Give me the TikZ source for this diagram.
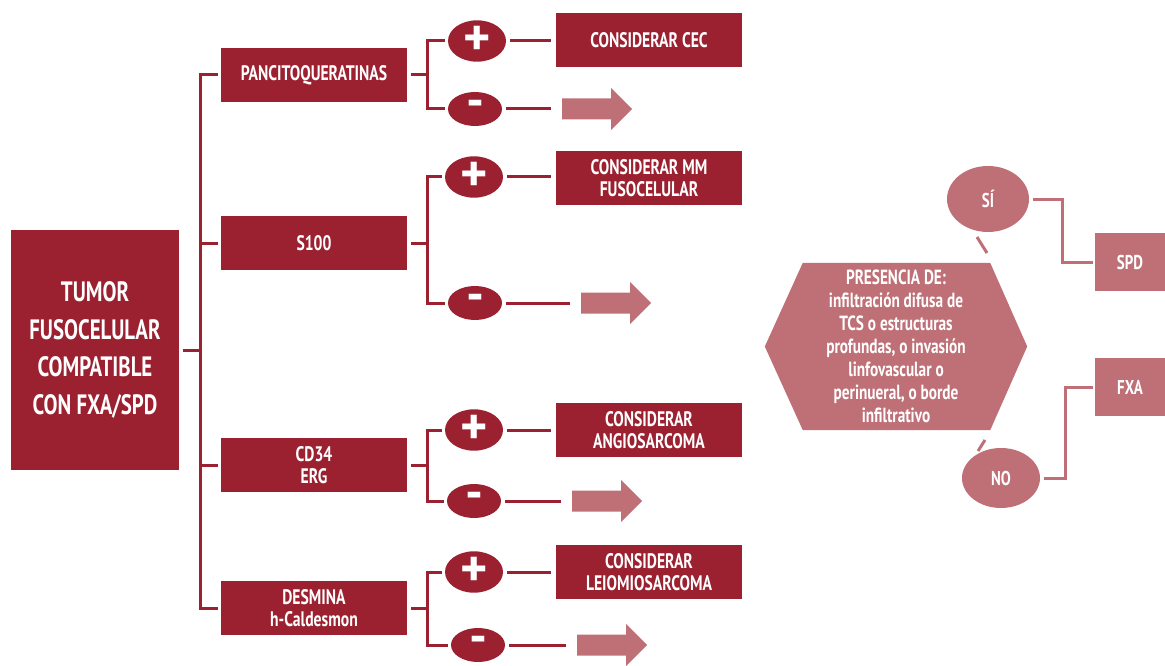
\documentclass[tikz,border=0pt]{standalone}
\usepackage{fontspec}
\setmainfont{PT Sans}[FakeStretch=0.745]
\newfontfamily\symfam{PT Sans}
\usetikzlibrary{shapes.geometric,backgrounds}
\definecolor{dred}{HTML}{9B2131}
\definecolor{lred}{HTML}{BF7077}
\begin{document}
\begin{tikzpicture}[x=1pt,y=-1pt,
  conn/.style={draw=dred,line width=3pt},
  lconn/.style={draw=lred,line width=3pt},
  box/.style={fill=dred,text=white,font=\bfseries\fontsize{21}{22}\selectfont,align=center,inner sep=0pt,minimum width=186pt,minimum height=54pt},
  mainbox/.style={fill=dred,text=white,font=\bfseries\fontsize{28}{37.7}\selectfont,align=center,inner sep=0pt,minimum width=168pt,minimum height=240pt},
  pbub/.style={ellipse,fill=dred,text=white,inner sep=0pt,minimum width=58pt,minimum height=36pt,font=\symfam\bfseries\fontsize{52}{52}\selectfont},
  mbub/.style={ellipse,fill=dred,text=white,inner sep=0pt,minimum width=54pt,minimum height=34pt,font=\symfam\bfseries\fontsize{50}{50}\selectfont},
  lbub/.style={ellipse,fill=lred,text=white,inner sep=0pt,font=\bfseries\fontsize{20}{22}\selectfont},
  lbox/.style={fill=lred,text=white,inner sep=0pt,minimum width=70pt,minimum height=58pt,font=\bfseries\fontsize{20}{22}\selectfont},
  hextext/.style={text=white,align=center,inner sep=0pt,minimum width=262pt,minimum height=167pt,font=\bfseries\fontsize{20.5}{23}\selectfont},
  rarrow/.pic={\fill[lred] (0,-10.5) -- (49,-10.5) -- (49,-21) -- (70,0) -- (49,21) -- (49,10.5) -- (0,10.5) -- cycle;}
]
\useasboundingbox (0,0) rectangle (1165,666);

% main and marker boxes
\node[mainbox] (main) at (95,350) {TUMOR\\FUSOCELULAR\\COMPATIBLE\\CON FXA/SPD};
\node[box] (b1) at (314,75) {PANCITOQUERATINAS};
\node[box] (b2) at (314,243) {S100};
\node[box] (b3) at (314,465) {CD34\\ERG};
\node[box] (b4) at (314,608) {DESMINA\\h-Caldesmon};

% result boxes
\node[box] (r1) at (649,40) {CONSIDERAR CEC};
\node[box] (r2) at (649,178) {CONSIDERAR MM\\FUSOCELULAR};
\node[box] (r3) at (649,430) {CONSIDERAR\\ANGIOSARCOMA};
\node[box] (r4) at (649,572) {CONSIDERAR\\LEIOMIOSARCOMA};

% plus / minus bubbles
\node[pbub] (p1) at (477,41) {+};
\node[mbub] (m1) at (475,109) {-};
\node[pbub] (p2) at (474,177) {+};
\node[mbub] (m2) at (475,303) {-};
\node[pbub] (p3) at (474,430) {+};
\node[mbub] (m3) at (474,501) {-};
\node[pbub] (p4) at (474,572) {+};
\node[mbub] (m4) at (478,645) {-};

% arrows
\coordinate (a1) at (562,109);
\coordinate (a2) at (581,303);
\coordinate (a3) at (572,501);
\coordinate (a4) at (577,645);
\pic at (a1) {rarrow};
\pic at (a2) {rarrow};
\pic at (a3) {rarrow};
\pic at (a4) {rarrow};

% trunk
\coordinate (t) at (200,350);
\coordinate (v) at (427,0);
\draw[conn] ([xshift=4pt]main.east) -- (t);
\draw[conn] ([xshift=-3pt]b1.west) -| (t) |- ([xshift=-3pt]b4.west);
\draw[conn] ([xshift=-3pt]b2.west) -- (b2.west -| t);
\draw[conn] ([xshift=-3pt]b3.west) -- (b3.west -| t);

% branches
\foreach \i in {1,2,3,4}{
  \draw[conn] ([xshift=4pt]b\i.east) -- (b\i.east -| v);
  \draw[conn] ([xshift=-3pt]p\i.west) -| (v |- m\i) -- ([xshift=-3pt]m\i.west);
  \draw[conn] ([xshift=4pt]p\i.east) -- ([xshift=-5pt]p\i.east -| r\i.west);
  \draw[conn] ([xshift=4pt]m\i.east) -- ([xshift=-11pt]a\i);
}

% right part
\node[hextext] (hex) at (896,346.5) {PRESENCIA DE:\\infiltración difusa de\\TCS o estructuras\\profundas, o invasión\\linfovascular o\\perinueral, o borde\\infiltrativo};
\begin{scope}[on background layer]
\fill[lred] (hex.west) -- ([xshift=38pt]hex.north west) -- ([xshift=-37pt]hex.north east) -- (hex.east) -- ([xshift=-37pt]hex.south east) -- ([xshift=38pt]hex.south west) -- cycle;
\end{scope}
\node[lbub,minimum width=82pt,minimum height=66pt] (si) at (988,199) {SÍ};
\node[lbub,minimum width=78pt,minimum height=60pt] (no) at (1001,478) {NO};
\node[lbox] (spd) at (1130,262) {SPD};
\node[lbox] (fxa) at (1130,387) {FXA};
\coordinate (s1) at (977,237);
\coordinate (s2) at (987,253);
\coordinate (n1) at (985,440);
\coordinate (n2) at (978,451);
\draw[lconn] (s1) -- (s2);
\draw[lconn] (n1) -- (n2);
\draw[lconn] ([xshift=4pt]si.east) -- ++(29,0) |- ([xshift=-2pt]spd.west);
\draw[lconn] ([xshift=4pt]no.east) -- ++(21,0) |- ([xshift=-2pt]fxa.west);
\end{tikzpicture}
\end{document}
